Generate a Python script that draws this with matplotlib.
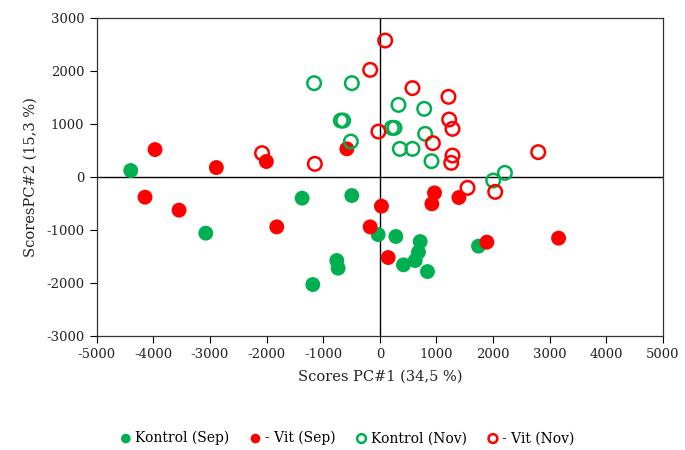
import matplotlib
matplotlib.use("Agg")
import matplotlib.pyplot as plt

plt.rcParams["axes.unicode_minus"] = False

# Kontrol (Sep) - filled green
ks_x = [-4399, -3074, -1373, -495, -760, -737, -1184, -30, 283, 417, 624, 682, 712, 841, 1742]
ks_y = [125, -1058, -397, -347, -1575, -1719, -2028, -1084, -1121, -1656, -1575, -1416, -1216, -1783, -1303]

# - Vit (Sep) - filled red
vs_x = [-3970, -4147, -3546, -2887, -2004, -1820, -583, -171, 28, 147, 965, 919, 1396, 1890, 3156]
vs_y = [521, -378, -623, 181, 295, -939, 534, -939, -548, -1518, -297, -504, -385, -1228, -1152]

# Kontrol (Nov) - open green
kn_x = [-1161, -495, -689, -648, -512, 212, 258, 329, 353, 576, 783, 800, 912, 2002, 2208]
kn_y = [1775, 1775, 1069, 1069, 672, 931, 931, 1365, 534, 534, 1290, 818, 302, -64, 81]

# - Vit (Nov) - open red
vn_x = [94, -171, -25, -2080, -1148, 576, 1212, 1224, 1283, 936, 1283, 1260, 2797, 1548, 2037]
vn_y = [2580, 2026, 861, 453, 251, 1681, 1517, 1088, 912, 642, 408, 270, 472, -202, -278]

labels = ["Kontrol (Sep)", "- Vit (Sep)", "Kontrol (Nov)", "- Vit (Nov)"]
xticks = list(range(-5000, 5001, 1000))
yticks = list(range(-3000, 3001, 1000))

GREEN = "#00B050"
RED = "#FF0000"
serif = "DejaVu Serif"

fig = plt.figure(figsize=(6.85, 4.5), dpi=100)
ax = fig.add_axes([96.7/685, 1-336/450, (663-96.7)/685, (336-18.3)/450])

ax.axhline(0, color="black", lw=1.0, zorder=1)
ax.axvline(0, color="black", lw=1.0, zorder=1)

ax.scatter(ks_x, ks_y, s=115, color=GREEN, edgecolors="none", label=labels[0], zorder=3)
ax.scatter(vs_x, vs_y, s=115, color=RED, edgecolors="none", label=labels[1], zorder=3)
ax.scatter(kn_x, kn_y, s=95, facecolors="none", edgecolors=GREEN, linewidths=1.8, label=labels[2], zorder=3)
ax.scatter(vn_x, vn_y, s=95, facecolors="none", edgecolors=RED, linewidths=1.8, label=labels[3], zorder=3)

ax.set_xlim(-5000, 5000)
ax.set_ylim(-3000, 3000)
ax.set_xticks(xticks)
ax.set_yticks(yticks)
ax.tick_params(direction="out", length=5, width=0.8, labelsize=9.5, pad=4, labelcolor="#222222")
for lab in ax.get_xticklabels() + ax.get_yticklabels():
    lab.set_family(serif)
for sp in ax.spines.values():
    sp.set_linewidth(0.9)
    sp.set_color("#333333")

ax.set_xlabel("Scores PC#1 (34,5 %)", family=serif, fontsize=10.5, labelpad=6, color="#222222")
ax.set_ylabel("ScoresPC#2 (15,3 %)", family=serif, fontsize=10.5, labelpad=6, color="#222222")

fig.legend(loc="center", bbox_to_anchor=(0.505, 1-438/450), ncol=4, frameon=False,
           prop={"family": serif, "size": 10}, handletextpad=0.05, columnspacing=1.3,
           handlelength=1.2, markerscale=0.65, scatterpoints=1)

fig.savefig("out.png", dpi=100)
